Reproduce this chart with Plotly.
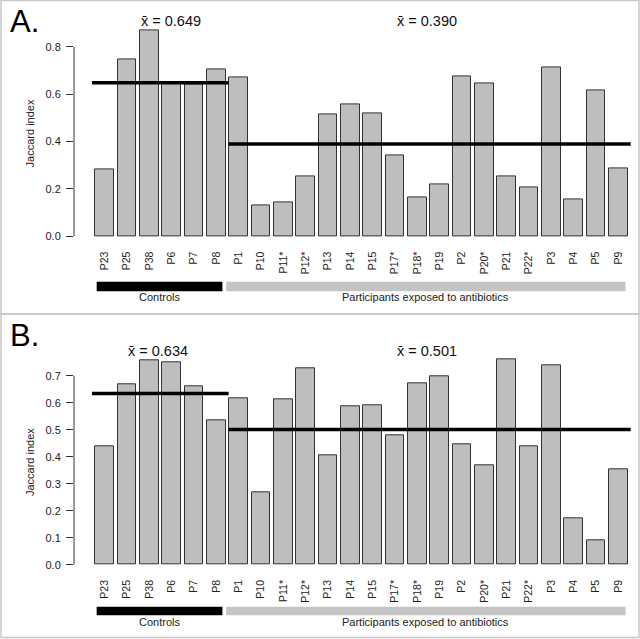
import plotly.graph_objects as go

labels = ["P23", "P25", "P38", "P6", "P7", "P8", "P1", "P10", "P11*", "P12*", "P13", "P14",
          "P15", "P17*", "P18*", "P19", "P2", "P20*", "P21", "P22*", "P3", "P4", "P5", "P9"]
n_controls = 6

jaccard_A = [0.283, 0.749, 0.869, 0.646, 0.642, 0.707,
             0.672, 0.132, 0.144, 0.254, 0.513, 0.556, 0.520, 0.342, 0.165, 0.220,
             0.675, 0.646, 0.254, 0.207, 0.714, 0.154, 0.618, 0.286]
jaccard_B = [0.440, 0.670, 0.758, 0.749, 0.659, 0.535,
             0.616, 0.268, 0.612, 0.728, 0.405, 0.585, 0.589, 0.479, 0.672, 0.696,
             0.446, 0.369, 0.760, 0.440, 0.738, 0.172, 0.089, 0.353]
means_A = [0.649, 0.390]
means_B = [0.634, 0.501]
ticks_A = [0.0, 0.2, 0.4, 0.6, 0.8]
ticks_B = [0.0, 0.1, 0.2, 0.3, 0.4, 0.5, 0.6, 0.7]
group_names = ["Controls", "Participants exposed to antibiotics"]
panel_names = ["A.", "B."]

W, H = 640, 639
FONT = "Liberation Sans, Arial, sans-serif"
TXT = "#222222"

def py(px):
    return 1 - px / H

fig = go.Figure()

panels = [
    dict(vals=jaccard_A, means=means_A, ticks=ticks_A, ax="", plot_px=(22.4, 244.5),
         gbar=(281.7, 291.3), gtext=297, mtext=21, label=(21, 0), box=(0.5, 314)),
    dict(vals=jaccard_B, means=means_B, ticks=ticks_B, ax="2", plot_px=(351.3, 572.9),
         gbar=(606.7, 615.3), gtext=622, mtext=351, label=(335, 1), box=(314, 637.5)),
]

n = len(labels)
xdom = [74 / W, 635 / W]
shapes = []
annotations = []

for k, p in enumerate(panels):
    vals = p["vals"]
    ymax = max(vals)
    yr = [-0.04 * ymax, 1.04 * ymax]
    xa = "x" + p["ax"]
    ya = "y" + p["ax"]
    fig.add_trace(go.Bar(
        x=labels, y=vals, width=1 / 1.2,
        marker=dict(color="#bebebe", line=dict(color="#333333", width=1)),
        xaxis=xa, yaxis=ya, showlegend=False, hoverinfo="x+y",
    ))
    top, bot = p["plot_px"]
    fig.update_layout(**{
        "xaxis" + p["ax"]: dict(
            domain=xdom, anchor=ya, type="category", range=[-1.375, n - 1 + 0.745],
            showgrid=False, zeroline=False, showline=False, ticks="",
            tickangle=-90, tickfont=dict(family=FONT, size=10.5, color=TXT),
            ticklabelstandoff=4, fixedrange=True, automargin=False),
        "yaxis" + p["ax"]: dict(
            domain=[py(bot), py(top)], anchor=xa, range=yr,
            showgrid=False, zeroline=False, showline=False,
            ticks="outside", ticklen=7, tickwidth=1, tickcolor="#333333",
            tickvals=p["ticks"], ticktext=["%.1f" % t for t in p["ticks"]],
            tickfont=dict(family=FONT, size=11, color=TXT), ticklabelstandoff=3,
            title=dict(text="Jaccard index", font=dict(family=FONT, size=11, color=TXT),
                       standoff=8),
            fixedrange=True, automargin=False),
    })
    # y axis line spanning the tick range
    shapes.append(dict(type="line", xref=xa + " domain", yref=ya, x0=0, x1=0,
                       y0=p["ticks"][0], y1=p["ticks"][-1],
                       line=dict(color="#333333", width=1)))
    # mean lines
    i_end_c = n_controls - 1
    shapes.append(dict(type="line", xref=xa, yref=ya, x0=-0.57, x1=i_end_c + 0.55,
                       y0=p["means"][0], y1=p["means"][0], line=dict(color="black", width=3.5)))
    shapes.append(dict(type="line", xref=xa, yref=ya, x0=i_end_c + 0.55, x1=n - 1 + 0.55,
                       y0=p["means"][1], y1=p["means"][1], line=dict(color="black", width=3.5)))
    # mean labels
    centers = [(0 + i_end_c) / 2 + (0.45 if k == 0 else -0.1), (n_controls + n - 1) / 2 - 0.05]
    for c, m in zip(centers, p["means"]):
        annotations.append(dict(xref=xa, yref="paper", x=c, y=py(p["mtext"]),
                                text="x\u0304 = %.3f" % m, showarrow=False,
                                font=dict(family=FONT, size=14.5, color="#111111"),
                                xanchor="center", yanchor="middle"))
    # group bars
    g0, g1 = p["gbar"]
    shapes.append(dict(type="rect", xref=xa, yref="paper", x0=-0.36, x1=i_end_c + 0.27,
                       y0=py(g1), y1=py(g0), fillcolor="black", line=dict(width=0)))
    shapes.append(dict(type="rect", xref=xa, yref="paper", x0=n_controls - 0.56, x1=n - 1 + 0.32,
                       y0=py(g1), y1=py(g0), fillcolor="#c4c4c4", line=dict(width=0)))
    gcent = [(-0.36 + i_end_c + 0.27) / 2, (n_controls - 0.56 + n - 1 + 0.32) / 2]
    for c, name in zip(gcent, group_names):
        annotations.append(dict(xref=xa, yref="paper", x=c, y=py(p["gtext"]),
                                text=name, showarrow=False,
                                font=dict(family=FONT, size=11, color=TXT),
                                xanchor="center", yanchor="middle"))
    # panel letter
    annotations.append(dict(xref="paper", yref="paper", x=8 / W, y=py(p["label"][0]),
                            text=panel_names[k], showarrow=False,
                            font=dict(family=FONT, size=31, color="black"),
                            xanchor="left", yanchor="middle"))
    # panel box
    b0, b1 = p["box"]
    shapes.append(dict(type="rect", xref="paper", yref="paper", x0=1 / W, x1=639 / W,
                       y0=py(b1), y1=py(b0), line=dict(color="#c8c8c8", width=1.5),
                       fillcolor="rgba(0,0,0,0)", layer="below"))

fig.update_layout(
    width=W, height=H, margin=dict(l=0, r=0, t=0, b=0),
    paper_bgcolor="white", plot_bgcolor="white",
    shapes=shapes, annotations=annotations, bargap=0,
    font=dict(family=FONT, color=TXT),
)

fig.write_html("out.html", config={"displayModeBar": False},
               post_script="document.body.style.margin='0';document.body.style.overflow='hidden';")
